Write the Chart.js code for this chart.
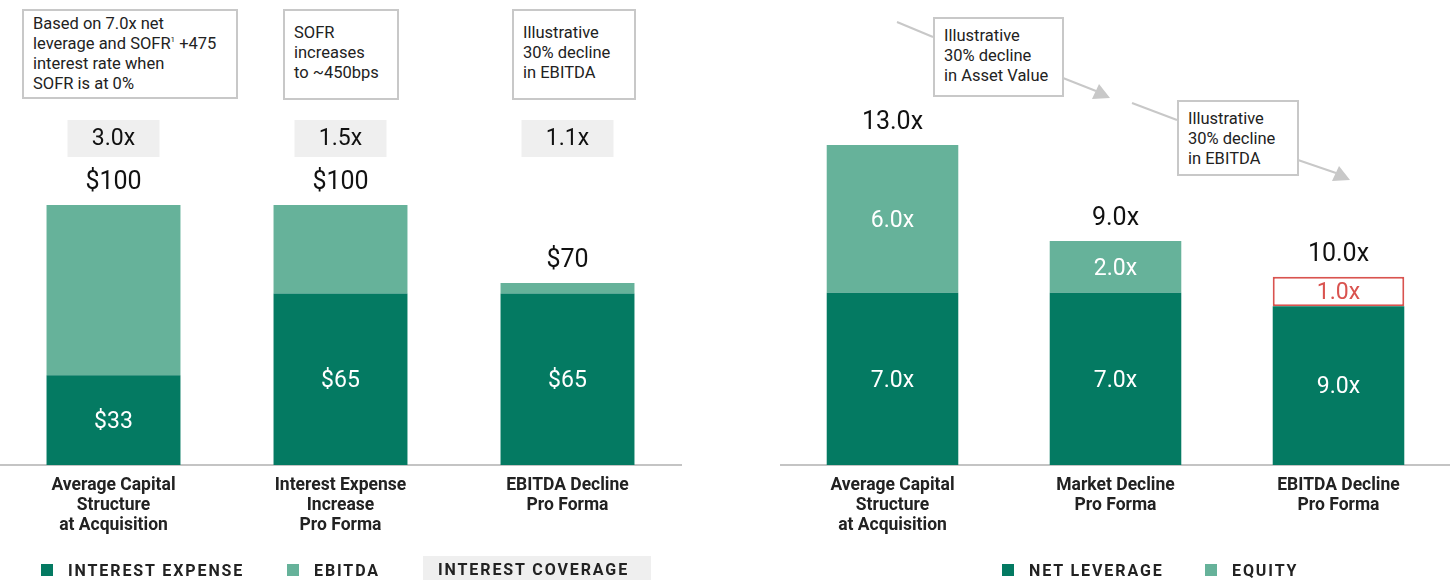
<!DOCTYPE html>
<html>
<head>
<meta charset="utf-8">
<script src="https://cdn.jsdelivr.net/npm/chart.js@4.4.1/dist/chart.umd.min.js"></script>
<style>
  body{margin:0;width:1450px;height:580px;position:relative;background:#fff;font-family:Roboto,"Liberation Sans",sans-serif;color:#222;overflow:hidden}
  .wrap{position:absolute;top:0;height:580px}
  .note{position:absolute;border:2px solid #c8c8c8;background:#fff;font-size:16.5px;line-height:20px;color:#222;padding:6px 9px;box-sizing:border-box;white-space:nowrap}
  .note sup{font-size:8px;line-height:0;vertical-align:baseline;position:relative;top:-7px}
  .legend{position:absolute;top:561px;font-size:16px;font-weight:700;letter-spacing:1.9px;color:#222;white-space:nowrap}
  .legend span.sq{display:inline-block;width:12px;height:12px;vertical-align:0px;margin-right:15px}
  .legend .cov{display:inline-block;background:#efefef;padding:4px 22px 5px 15px}
  svg{position:absolute;left:0;top:0}
</style>
</head>
<body>

<div class="wrap" style="left:0;width:700px"><canvas id="leftChart"></canvas></div>
<div class="wrap" style="left:760px;width:690px"><canvas id="rightChart"></canvas></div>

<div class="note" style="left:22px;top:9px;width:216px;height:90px;padding-top:3px">Based on 7.0x net<br>leverage and SOFR<sup>1</sup> +475<br>interest rate when<br>SOFR is at 0%</div>
<div class="note" style="left:283px;top:9px;width:116px;height:91px;padding-top:12px">SOFR<br>increases<br>to ~450bps</div>
<div class="note" style="left:512px;top:9px;width:124px;height:91px;padding-top:12px">Illustrative<br>30% decline<br>in EBITDA</div>

<svg width="1450" height="580">
  <g stroke="#c8c8c8" stroke-width="2" fill="#c8c8c8">
    <line x1="897" y1="22" x2="933" y2="37"/>
    <line x1="1063" y1="78" x2="1096" y2="91"/>
    <polygon points="1110,98 1092,99 1099,84" stroke="none"/>
    <line x1="1132" y1="103" x2="1177" y2="120"/>
    <line x1="1298" y1="160" x2="1336" y2="173"/>
    <polygon points="1350,180 1332,181 1339,166" stroke="none"/>
  </g>
</svg>
<div class="note" style="left:933px;top:17px;width:131px;height:80px;padding-top:7px">Illustrative<br>30% decline<br>in Asset Value</div>
<div class="note" style="left:1177px;top:100px;width:122px;height:76px;padding-top:7px">Illustrative<br>30% decline<br>in EBITDA</div>

<div class="legend" style="left:41px"><span class="sq" style="background:#047a62"></span>INTEREST EXPENSE</div>
<div class="legend" style="left:287px"><span class="sq" style="background:#66b29a"></span>EBITDA</div>
<div class="legend" style="left:423px;top:556px"><span class="cov">INTEREST COVERAGE</span></div>
<div class="legend" style="left:1002px"><span class="sq" style="background:#047a62"></span>NET LEVERAGE</div>
<div class="legend" style="left:1205px"><span class="sq" style="background:#66b29a"></span>EQUITY</div>

<script>
const DARK="#047a62";
const LIGHT="#66b29a";
const RED="#d9534f";

// left chart: interest coverage
const leftCategories=[["Average Capital","Structure","at Acquisition"],["Interest Expense","Increase","Pro Forma"],["EBITDA Decline","Pro Forma"]];
const interestExpense=[34.5,66,66];
const ebitda=[65.5,34,4];
const interestLabels=["$33","$65","$65"];
const totalLabels=["$100","$100","$70"];
const coverageLabels=["3.0x","1.5x","1.1x"];

// right chart: leverage
const rightCategories=[["Average Capital","Structure","at Acquisition"],["Market Decline","Pro Forma"],["EBITDA Decline","Pro Forma"]];
const netLeverage=[7.0,7.0,6.45];
const equity=[6.0,2.1,1.2];
const leverageLabels=["7.0x","7.0x","9.0x"];
const equityLabels=["6.0x","2.0x","1.0x"];
const leverageTotals=["13.0x","9.0x","10.0x"];

const labelFont="Roboto, 'Liberation Sans', sans-serif";

// draws values inside/above bars and the grey coverage boxes
const barLabels={
  id:"barLabels",
  afterDatasetsDraw(chart,args,opts){
    const ctx=chart.ctx;
    ctx.save();
    ctx.textAlign="center";
    ctx.textBaseline="middle";
    ctx.font="400 23px "+labelFont;
    const metas=chart.data.datasets.map((d,i)=>chart.getDatasetMeta(i));
    metas.forEach((meta,di)=>{
      const lbls=opts.inner[di];
      if(!lbls)return;
      meta.data.forEach((el,i)=>{
        if(!lbls[i])return;
        ctx.fillStyle=(opts.innerColor&&opts.innerColor[di]&&opts.innerColor[di][i])||"#fff";
        ctx.fillText(lbls[i],el.x,(el.y+el.base)/2+2);
      });
    });
    ctx.font="400 25px "+labelFont;
    ctx.fillStyle="#111";
    const top=metas[metas.length-1];
    top.data.forEach((el,i)=>{
      ctx.fillText(opts.totals[i],el.x,el.y-22);
    });
    if(opts.coverage){
      const xs=chart.scales.x;
      opts.coverage.forEach((t,i)=>{
        const x=xs.getPixelForValue(i);
        ctx.fillStyle="#efefef";
        ctx.fillRect(x-46,120,92,37);
        ctx.fillStyle="#111";
        ctx.font="400 23px "+labelFont;
        ctx.fillText(t,x,139);
      });
    }
    ctx.restore();
  }
};

const makeOptions=(max,pad,pluginOpts)=>({
  responsive:true,
  maintainAspectRatio:false,
  animation:false,
  layout:{padding:pad},
  plugins:{legend:{display:false},tooltip:{enabled:false},barLabels:pluginOpts},
  scales:{
    x:{
      stacked:true,
      grid:{display:false},
      border:{display:true,color:"#c4c4c4",width:2},
      ticks:{color:"#222",font:{family:labelFont,size:17.5,weight:"700",lineHeight:1.13},padding:3,maxRotation:0,autoSkip:false},
      afterFit:(axis)=>{axis.height=115;}
    },
    y:{stacked:true,display:false,min:0,max:max}
  }
});

new Chart(document.getElementById("leftChart"),{
  type:"bar",
  data:{
    labels:leftCategories,
    datasets:[
      {label:"Interest Expense",data:interestExpense,backgroundColor:DARK,barPercentage:0.59,categoryPercentage:1},
      {label:"EBITDA",data:ebitda,backgroundColor:LIGHT,barPercentage:0.59,categoryPercentage:1}
    ]
  },
  options:makeOptions(125,{top:140,left:0,right:19,bottom:0},{inner:[interestLabels,null],totals:totalLabels,coverage:coverageLabels}),
  plugins:[barLabels]
});

new Chart(document.getElementById("rightChart"),{
  type:"bar",
  data:{
    labels:rightCategories,
    datasets:[
      {label:"Net Leverage",data:netLeverage,backgroundColor:DARK,barPercentage:0.59,categoryPercentage:1},
      {label:"Equity",data:equity,backgroundColor:[LIGHT,LIGHT,"#fff"],borderColor:[LIGHT,LIGHT,RED],borderWidth:[0,0,2],borderSkipped:false,barPercentage:0.59,categoryPercentage:1}
    ]
  },
  options:makeOptions(13.2,{top:140,left:21,right:0,bottom:0},{inner:[leverageLabels,equityLabels],innerColor:[null,[null,null,RED]],totals:leverageTotals}),
  plugins:[barLabels]
});
</script>
</body>
</html>
